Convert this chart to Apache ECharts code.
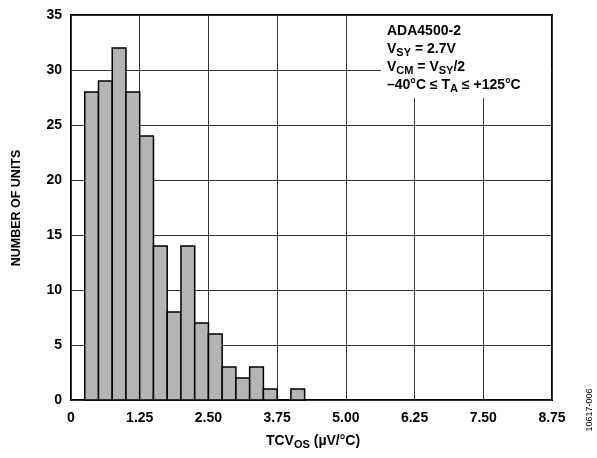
<!DOCTYPE html>
<html>
<head>
<meta charset="utf-8">
<script src="https://cdn.jsdelivr.net/npm/echarts@6/dist/echarts.min.js"></script>
<style>html,body{margin:0;padding:0;background:#fff;}#c{width:597px;height:458px;}</style>
</head>
<body>
<div id="c"></div>
<script>
const binLow  = [0.25, 0.50, 0.75, 1.00, 1.25, 1.50, 1.75, 2.00, 2.25, 2.50, 2.75, 3.00, 3.25, 3.50, 3.75, 4.00];
const binHigh = [0.50, 0.75, 1.00, 1.25, 1.50, 1.75, 2.00, 2.25, 2.50, 2.75, 3.00, 3.25, 3.50, 3.75, 4.00, 4.25];
const counts  = [28, 29, 32, 28, 24, 14, 8, 14, 7, 6, 3, 2, 3, 1, 0, 1];
const xTickLabels = ['0', '1.25', '2.50', '3.75', '5.00', '6.25', '7.50', '8.75'];
const yTickLabels = ['0', '5', '10', '15', '20', '25', '30', '35'];

const FONT = '"Liberation Sans", Arial, sans-serif';
const chart = echarts.init(document.getElementById('c'), null, {renderer: 'canvas'});
const data = counts.map((c, i) => [binLow[i], binHigh[i], c]);

const richStyles = {
  b: {fontFamily: FONT, fontWeight: 'bold', fontSize: 14, lineHeight: 18, fill: '#000'},
  s: {fontFamily: FONT, fontWeight: 'bold', fontSize: 11, lineHeight: 18, padding: [8, 0, 0, 0], fill: '#000'}
};

chart.setOption({
  animation: false,
  backgroundColor: '#fff',
  grid: {left: 71, right: 45, top: 15, bottom: 58, show: true, borderColor: '#000', borderWidth: 2, backgroundColor: 'transparent'},
  xAxis: {
    type: 'value', min: 0, max: 8.75, interval: 1.25,
    axisLine: {show: false}, axisTick: {show: false},
    splitLine: {show: true, lineStyle: {color: '#333', width: 1}},
    axisLabel: {
      color: '#000', fontFamily: FONT, fontWeight: 'bold', fontSize: 14, margin: 11,
      formatter: (v) => xTickLabels[Math.round(v / 1.25)]
    }
  },
  yAxis: {
    type: 'value', min: 0, max: 35, interval: 5,
    axisLine: {show: false}, axisTick: {show: false},
    splitLine: {show: true, lineStyle: {color: '#333', width: 1}},
    axisLabel: {
      color: '#000', fontFamily: FONT, fontWeight: 'bold', fontSize: 14, margin: 9,
      formatter: (v) => yTickLabels[Math.round(v / 5)]
    }
  },
  series: [{
    type: 'custom',
    data: data,
    encode: {x: [0, 1], y: 2},
    renderItem: function (params, api) {
      const p0 = api.coord([api.value(0), api.value(2)]);
      const p1 = api.coord([api.value(1), 0]);
      return {
        type: 'rect',
        shape: {x: p0[0], y: p0[1], width: p1[0] - p0[0], height: p1[1] - p0[1]},
        style: {fill: '#b4b4b4', stroke: '#000', lineWidth: 1.5}
      };
    }
  }],
  graphic: [
    {type: 'rect', left: 381, top: 16, shape: {width: 170, height: 82}, style: {fill: '#fff'}, z: 10},
    {
      type: 'text', left: 387, top: 24, z: 11,
      style: {
        text: '{b|ADA4500-2}\n{b|V}{s|SY}{b| = 2.7V}\n{b|V}{s|CM}{b| = V}{s|SY}{b|/2}\n{b|–40°C ≤ T}{s|A}{b| ≤ +125°C}',
        fill: '#000',
        rich: richStyles
      }
    },
    {
      type: 'text', x: 313, y: 441, z: 11,
      style: {
        text: '{b|TCV}{s|OS}{b| (µV/°C)}',
        align: 'center', verticalAlign: 'middle',
        rich: richStyles
      }
    },
    {
      type: 'text', x: 17, y: 208, rotation: Math.PI / 2, z: 11,
      style: {
        text: 'NUMBER OF UNITS', fontFamily: FONT, fontWeight: 'bold', fontSize: 12.5,
        fill: '#000', align: 'center', verticalAlign: 'middle'
      }
    },
    {
      type: 'text', x: 590, y: 410, rotation: Math.PI / 2, z: 11,
      style: {
        text: '10617-006', fontFamily: FONT, fontSize: 9,
        fill: '#000', align: 'center', verticalAlign: 'middle'
      }
    }
  ]
});
</script>
</body>
</html>
